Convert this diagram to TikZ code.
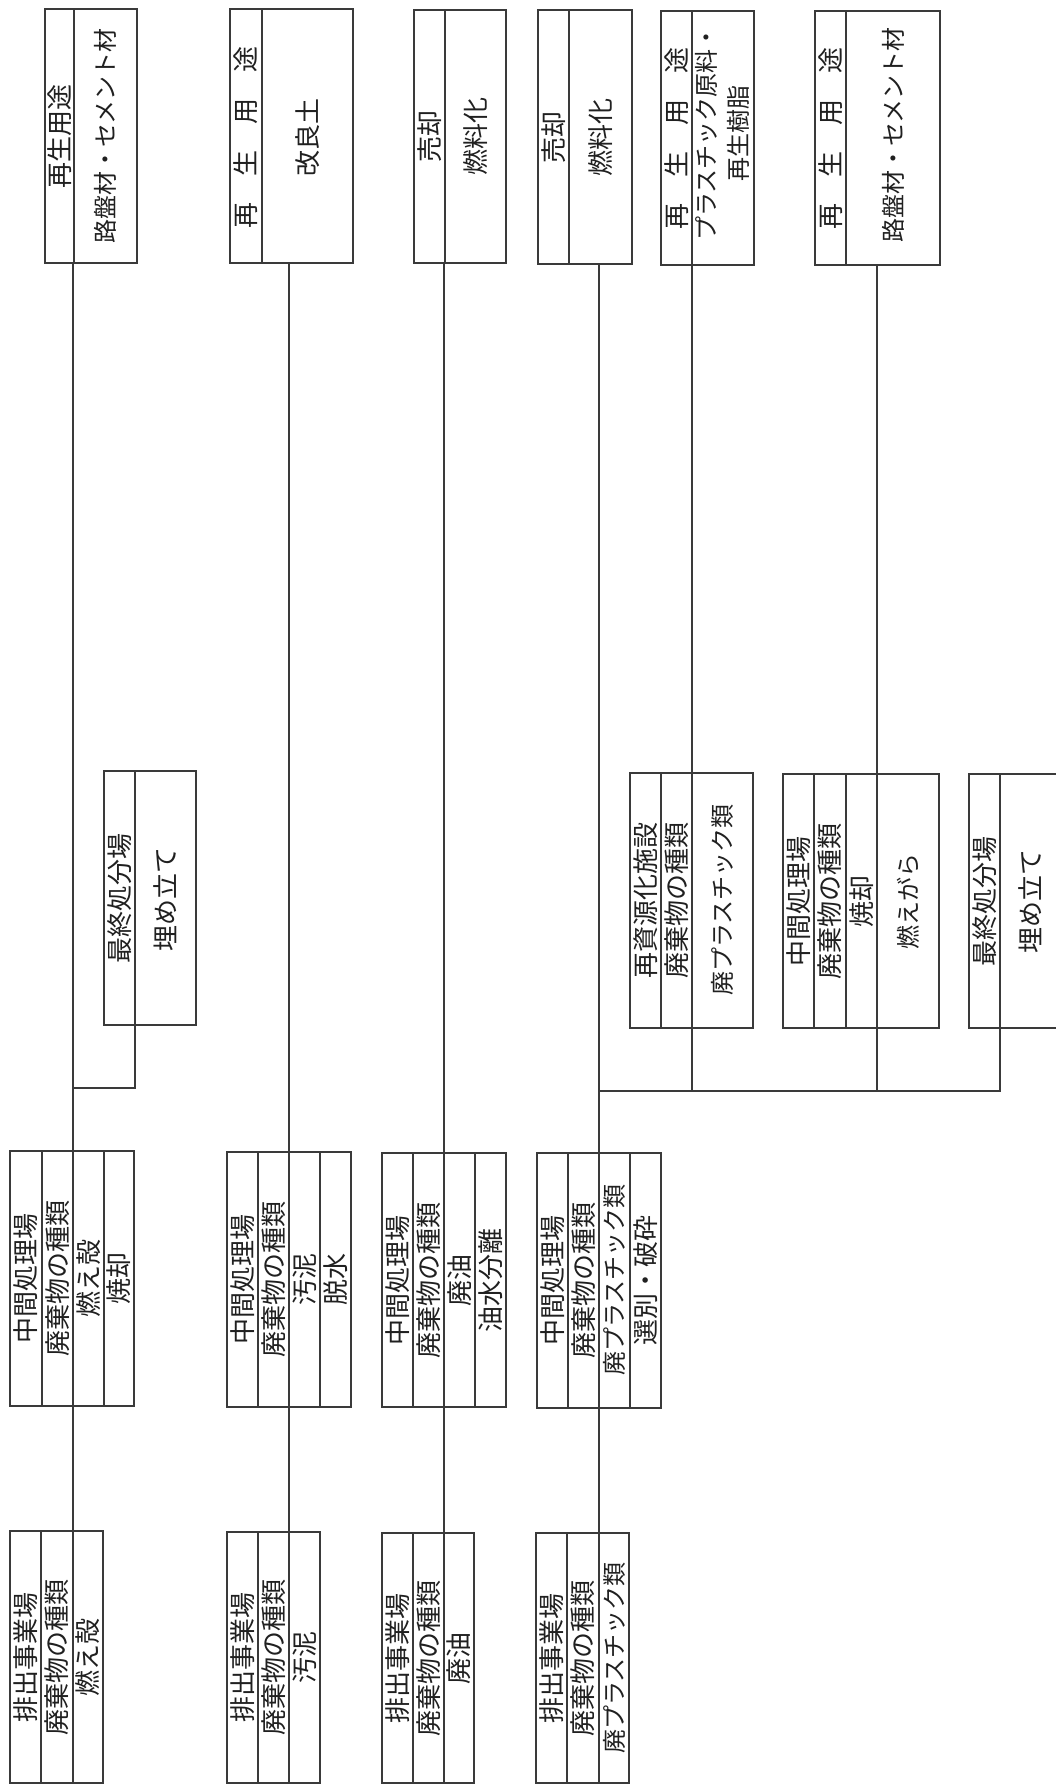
\documentclass[tikz,border=0pt]{standalone}
\usepackage{fontspec}
\newfontfamily\jp{Noto Sans CJK JP}
\definecolor{ln}{HTML}{3A3A3A}
\definecolor{tx}{HTML}{202020}
\newcommand\mkbox[5]{\node[box,minimum width={(#4)-(#2)},minimum height={(#5)-(#3)}] (#1) at ({((#2)+(#4))/2},{((#3)+(#5))/2}) {};}
\newcommand\dv[3]{\draw[divl] (#1,#2) -- (#1,#3);}
\begin{document}
\begin{tikzpicture}[x=1pt,y=-1pt,
  box/.style={draw=ln,line width=1.1pt,rectangle,inner sep=0pt,outer sep=0pt},
  divl/.style={draw=ln,line width=1.1pt},
  conn/.style={draw=ln,line width=1.1pt},
  lbl/.style={rotate=90,inner sep=0pt,text=tx,font=\jp\fontsize{26pt}{30pt}\selectfont},
  lbls/.style={rotate=90,inner sep=0pt,text=tx,font=\jp\fontsize{24pt}{32pt}\selectfont}]
\useasboundingbox (0,0) rectangle (1056,1785);
\fill[white] (0,0) rectangle (1056,1785);
\clip (0,0) rectangle (1056,1785);

% ---------- top row ----------
\mkbox{T1}{45}{9}{137}{263}
\dv{74}{9}{263}
\node[lbl] (T1a) at (59.5,136) {再生用途};
\node[lbls] (T1b) at (105.5,136) {路盤材・セメント材};

\mkbox{T2}{230}{9}{353}{263}
\dv{262}{9}{263}
\node[lbl] (T2a) at (246,137) {再　生　用　途};
\node[lbl] (T2b) at (307.5,137) {改良土};

\mkbox{T3}{414}{10}{506}{263}
\dv{445}{10}{263}
\node[lbl] (T3a) at (429.5,136) {売却};
\node[lbl] (T3b) at (475.5,136) {燃料化};

\mkbox{T4}{538}{10}{632}{264}
\dv{569}{10}{264}
\node[lbl] (T4a) at (553.5,137) {売却};
\node[lbl] (T4b) at (600.5,137) {燃料化};

\mkbox{T5}{661}{11}{754}{265}
\dv{692}{11}{265}
\node[lbl] (T5a) at (676.5,138) {再　生　用　途};
\node[lbls,align=center] (T5b) at (722,133) {プラスチック原料・\\再生樹脂};

\mkbox{T6}{815}{11}{940}{265}
\dv{846}{11}{265}
\node[lbl] (T6a) at (830.5,138) {再　生　用　途};
\node[lbls] (T6b) at (893,135) {路盤材・セメント材};

% ---------- middle row ----------
\mkbox{L}{104}{771}{196}{1025}
\dv{135}{771}{1025}
\node[lbl] (La) at (119.5,898) {最終処分場};
\node[lbl] (Lb) at (165.5,899) {埋め立て};

\mkbox{R1}{630}{773}{753}{1028}
\dv{661}{773}{1028}
\dv{692}{773}{1028}
\node[lbl] (R1a) at (645.5,900) {再資源化施設};
\node[lbl] (R1b) at (676.5,900) {廃棄物の種類};
\node[lbls] (R1c) at (722.5,900) {廃プラスチック類};

\mkbox{R2}{783}{774}{939}{1028}
\dv{814}{774}{1028}
\dv{846}{774}{1028}
\dv{877}{774}{1028}
\node[lbl] (R2a) at (798.5,901) {中間処理場};
\node[lbl] (R2b) at (830,901) {廃棄物の種類};
\node[lbl] (R2c) at (861.5,901) {焼却};
\node[lbls] (R2d) at (908,901) {燃えがら};

\mkbox{R3}{969}{774}{1061}{1028}
\dv{1000}{774}{1028}
\node[lbl] (R3a) at (984.5,901) {最終処分場};
\node[lbl] (R3b) at (1030.5,901) {埋め立て};

% ---------- intermediate processing ----------
\mkbox{M1}{10}{1151}{134}{1406}
\dv{42}{1151}{1406}
\dv{73}{1151}{1406}
\dv{104}{1151}{1406}
\node[lbl] (M1a) at (26,1278) {中間処理場};
\node[lbl] (M1b) at (57.5,1278) {廃棄物の種類};
\node[lbl] (M1c) at (88.5,1278) {燃え殻};
\node[lbl] (M1d) at (119,1278) {焼却};

\mkbox{M2}{227}{1152}{351}{1407}
\dv{258}{1152}{1407}
\dv{289}{1152}{1407}
\dv{320}{1152}{1407}
\node[lbl] (M2a) at (242.5,1279) {中間処理場};
\node[lbl] (M2b) at (273.5,1279) {廃棄物の種類};
\node[lbl] (M2c) at (304.5,1279) {汚泥};
\node[lbl] (M2d) at (335.5,1279) {脱水};

\mkbox{M3}{382}{1153}{506}{1407}
\dv{413}{1153}{1407}
\dv{444}{1153}{1407}
\dv{475}{1153}{1407}
\node[lbl] (M3a) at (397.5,1280) {中間処理場};
\node[lbl] (M3b) at (428.5,1280) {廃棄物の種類};
\node[lbl] (M3c) at (459.5,1280) {廃油};
\node[lbl] (M3d) at (490.5,1280) {油水分離};

\mkbox{M4}{537}{1153}{661}{1408}
\dv{568}{1153}{1408}
\dv{599}{1153}{1408}
\dv{630}{1153}{1408}
\node[lbl] (M4a) at (552.5,1280) {中間処理場};
\node[lbl] (M4b) at (583.5,1280) {廃棄物の種類};
\node[lbls] (M4c) at (614.5,1280) {廃プラスチック類};
\node[lbl] (M4d) at (645.5,1280) {選別・破砕};

% ---------- discharging sites ----------
\mkbox{E1}{10}{1531}{103}{1783}
\dv{41}{1531}{1783}
\dv{73}{1531}{1783}
\node[lbl] (E1a) at (25.5,1657) {排出事業場};
\node[lbl] (E1b) at (57,1657) {廃棄物の種類};
\node[lbl] (E1c) at (88,1657) {燃え殻};

\mkbox{E2}{227}{1532}{320}{1783}
\dv{258}{1532}{1783}
\dv{289}{1532}{1783}
\node[lbl] (E2a) at (242.5,1657) {排出事業場};
\node[lbl] (E2b) at (273.5,1657) {廃棄物の種類};
\node[lbl] (E2c) at (304.5,1657) {汚泥};

\mkbox{E3}{382}{1533}{474}{1783}
\dv{413}{1533}{1783}
\dv{444}{1533}{1783}
\node[lbl] (E3a) at (397.5,1658) {排出事業場};
\node[lbl] (E3b) at (428.5,1658) {廃棄物の種類};
\node[lbl] (E3c) at (459,1658) {廃油};

\mkbox{E4}{536}{1533}{629}{1783}
\dv{567}{1533}{1783}
\dv{599}{1533}{1783}
\node[lbl] (E4a) at (551.5,1658) {排出事業場};
\node[lbl] (E4b) at (583,1658) {廃棄物の種類};
\node[lbls] (E4c) at (614,1658) {廃プラスチック類};

% ---------- connectors ----------
\coordinate (G1) at (73,0);
\coordinate (G2) at (289,0);
\coordinate (G3) at (444,0);
\coordinate (G4) at (599,0);
\coordinate (G5) at (692,0);
\coordinate (G6) at (877,0);
\coordinate (G7) at (1000,0);
\coordinate (GL) at (135,0);
\coordinate (J1) at (73,1088);
\coordinate (J4) at (599,1091);

\draw[conn] (E1.north -| G1) -- (T1.south -| G1);
\draw[conn] (L.south -| GL) |- (J1);
\draw[conn] (E2.north -| G2) -- (T2.south -| G2);
\draw[conn] (E3.north -| G3) -- (T3.south -| G3);
\draw[conn] (E4.north -| G4) -- (T4.south -| G4);
\draw[conn] (J4) -| (R3.south -| G7);
\draw[conn] (J4 -| G5) -- (T5.south -| G5);
\draw[conn] (J4 -| G6) -- (T6.south -| G6);
\end{tikzpicture}
\end{document}
